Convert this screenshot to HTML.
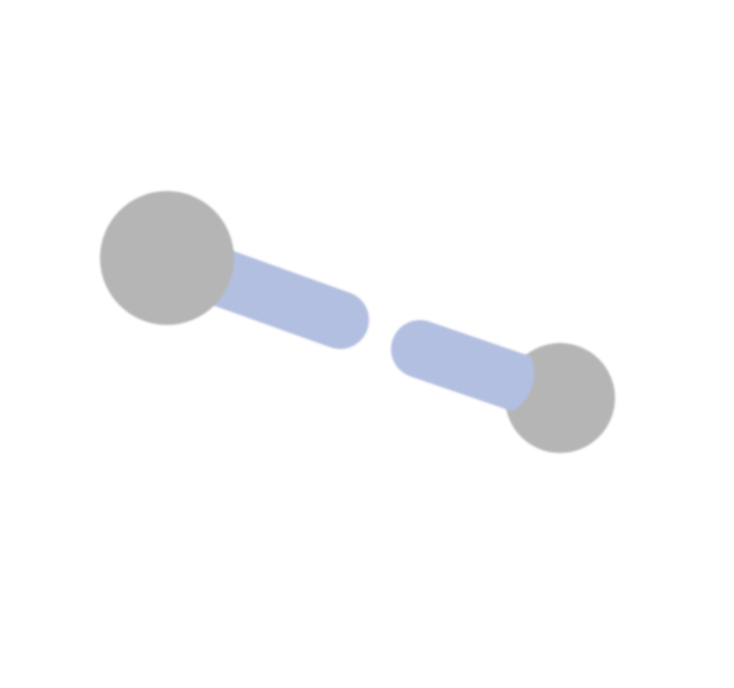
<!DOCTYPE html>
<html lang="en">
<head>
<meta charset="utf-8">
<title>Dumbbell chart</title>
<style>
  html, body { margin: 0; padding: 0; background: #ffffff; }
  body { width: 734px; height: 688px; overflow: hidden; }
  svg { display: block; }
</style>
</head>
<body>
<svg id="chart" width="734" height="688" viewBox="0 0 734 688" xmlns="http://www.w3.org/2000/svg">
  <defs>
    <filter id="soft" x="-20%" y="-20%" width="140%" height="140%">
      <feGaussianBlur stdDeviation="1.1"/>
    </filter>
  </defs>
  <rect x="0" y="0" width="734" height="688" fill="#ffffff"/>
  <g id="marks"></g>
</svg>
<script>
// Node data (domain units 0-100 on each axis; size is an area-like value)
var nodeXValues = [22.75, 76.3];
var nodeYValues = [37.5, 57.85];
var nodeSizes = [4489, 3025];
// Link data (domain units)
var linkStartX = [22.75, 71.02];
var linkStartY = [37.5, 55.78];
var linkEndX = [46.32, 57.22];
var linkEndY = [46.51, 50.73];

var SVG_NS = 'http://www.w3.org/2000/svg';
var LINK_THICKNESS = 58;
var marks = document.getElementById('marks');

function xScale(v) { return v / 100 * 734; }
function yScale(v) { return v / 100 * 688; }
function rScale(v) { return Math.sqrt(v); }

// Capsule whose far end is fully round and whose near end is a shallow bulge
function linkPath(i) {
  var x0 = xScale(linkStartX[i]), y0 = yScale(linkStartY[i]);
  var x1 = xScale(linkEndX[i]), y1 = yScale(linkEndY[i]);
  var dx = x1 - x0, dy = y1 - y0;
  var len = Math.sqrt(dx * dx + dy * dy);
  var h = LINK_THICKNESS / 2;
  var nx = -dy / len * h, ny = dx / len * h;
  return 'M' + (x0 + nx) + ',' + (y0 + ny) +
    ' L' + (x1 + nx) + ',' + (y1 + ny) +
    ' A' + h + ',' + h + ' 0 0 0 ' + (x1 - nx) + ',' + (y1 - ny) +
    ' L' + (x0 - nx) + ',' + (y0 - ny) +
    ' A' + (h * 1.5) + ',' + (h * 1.5) + ' 0 0 0 ' + (x0 + nx) + ',' + (y0 + ny) + ' Z';
}

function drawLink(i) {
  var link = document.createElementNS(SVG_NS, 'path');
  link.setAttribute('d', linkPath(i));
  link.setAttribute('fill', '#b3bfe1');
  link.setAttribute('filter', 'url(#soft)');
  
  
  marks.appendChild(link);
}

function drawNode(i) {
  var node = document.createElementNS(SVG_NS, 'circle');
  node.setAttribute('cx', xScale(nodeXValues[i]));
  node.setAttribute('cy', yScale(nodeYValues[i]));
  node.setAttribute('r', rScale(nodeSizes[i]));
  node.setAttribute('fill', '#b5b5b5');
  node.setAttribute('filter', 'url(#soft)');
  
  
  marks.appendChild(node);
}

// Layer order: left link under left node; right link over right node
drawLink(0);
drawNode(0);
drawNode(1);
drawLink(1);
</script>
</body>
</html>
